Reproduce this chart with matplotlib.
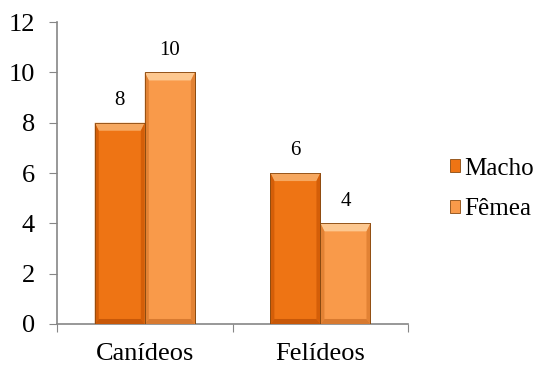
import numpy as np
import matplotlib.pyplot as plt
from matplotlib.patches import Polygon, Patch
from matplotlib.transforms import IdentityTransform

categories = ['Canídeos', 'Felídeos']
series = ['Macho', 'Fêmea']
macho = [8, 6]
femea = [10, 4]

colors = {'Macho': '#EE7414', 'Fêmea': '#F99A4A'}
top_colors = {'Macho': '#F6A860', 'Fêmea': '#FDC890'}
side_colors = {'Macho': '#D45E08', 'Fêmea': '#E28234'}
bottom_colors = {'Macho': '#C85808', 'Fêmea': '#D87A30'}
edge_color = '#8A4A10'

plt.rcParams['font.family'] = ['Liberation Serif']

fig = plt.figure(figsize=(5.48, 3.69), dpi=100)
ax = fig.add_axes([0.104, 0.122, 0.641, 0.818])

x = np.arange(len(categories))
width = 0.285
bars = {}
for i, (name, vals) in enumerate(zip(series, [macho, femea])):
    offs = (i - 0.5) * width
    bars[name] = ax.bar(x + offs, vals, width, color=colors[name],
                        edgecolor=edge_color, linewidth=0.6, zorder=3)
    for xi, v in zip(x + offs, vals):
        ax.text(xi, v + 0.5, str(v), ha='center', va='bottom', fontsize=15)

ax.set_xlim(-0.5, 1.5)
ax.set_ylim(0, 12)
ax.set_yticks(range(0, 13, 2))

# category boundaries get the tick marks, labels sit in between
ax.set_xticks([-0.5, 0.5, 1.5])
ax.set_xticklabels([])
ax.set_xticks(x, minor=True)
ax.set_xticklabels(categories, minor=True)
ax.tick_params(axis='x', which='minor', length=0, pad=14, labelsize=19)
ax.tick_params(axis='x', which='major', length=6, color='#868686')
ax.tick_params(axis='y', length=6, color='#868686', labelsize=19, pad=10)

for side in ['top', 'right']:
    ax.spines[side].set_visible(False)
for side in ['left', 'bottom']:
    ax.spines[side].set_color('#868686')
    ax.spines[side].set_linewidth(1.2)

# bevel shading on each bar, sized in pixels
tb, sb, bb = 8, 4, 5
for name in series:
    for p in bars[name]:
        (L, B), (R, T) = ax.transData.transform(
            [(p.get_x(), 0), (p.get_x() + p.get_width(), p.get_height())])
        faces = [
            ([(L, T), (R, T), (R - sb, T - tb), (L + sb, T - tb)], top_colors[name]),
            ([(L, B), (L, T), (L + sb, T - tb), (L + sb, B + bb)], side_colors[name]),
            ([(R, B), (R, T), (R - sb, T - tb), (R - sb, B + bb)], side_colors[name]),
            ([(L, B), (R, B), (R - sb, B + bb), (L + sb, B + bb)], bottom_colors[name]),
        ]
        for pts, c in faces:
            ax.add_patch(Polygon(pts, closed=True, facecolor=c, edgecolor='none',
                                 transform=IdentityTransform(), zorder=4))
        ax.add_patch(Polygon([(L, B), (L, T), (R, T), (R, B)], closed=True,
                             facecolor='none', edgecolor=edge_color, linewidth=0.6,
                             transform=IdentityTransform(), zorder=5))

handles = [Patch(facecolor=colors[n], edgecolor=edge_color, linewidth=0.6) for n in series]
fig.legend(handles, series, loc='center left', bbox_to_anchor=(0.803, 0.488),
           frameon=False, fontsize=18, handlelength=0.4, handleheight=0.4,
           handletextpad=0.15, labelspacing=0.75, borderaxespad=0)

fig.savefig('out.png', dpi=100)
